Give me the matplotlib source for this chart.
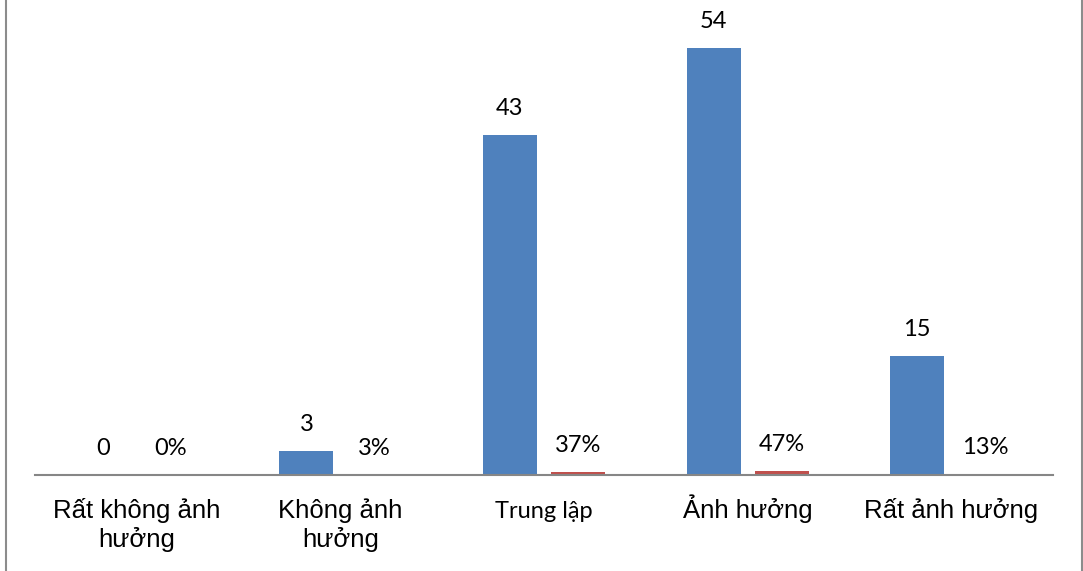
import numpy as np
import matplotlib
matplotlib.use('Agg')
import matplotlib.pyplot as plt

# Số liệu khảo sát: số người và tỷ lệ theo mức độ ảnh hưởng
categories = ['Rất không ảnh\nhưởng', 'Không ảnh\nhưởng', 'Trung lập',
              'Ảnh hưởng', 'Rất ảnh hưởng']
counts = [0, 3, 43, 54, 15]
ratios = [0.00, 0.03, 0.37, 0.47, 0.13]

blue = '#4F81BD'
red = '#C0504D'

fig = plt.figure(figsize=(10.83, 5.71), dpi=100)
ax = fig.add_axes([35 / 1083, 96 / 571, 1018 / 1083, 475 / 571])

x = np.arange(len(categories))
w = 0.265
off = 0.167

ax.bar(x - off, counts, w, color=blue)
ax.bar(x + off, ratios, w, color=red)

# Nhãn giá trị trên cột
for xi, v in zip(x, counts):
    ax.annotate(str(v), (xi - off, v), xytext=(0, 19), textcoords='offset points',
                ha='center', va='center', fontsize=17, family='Lato')
for xi, v in zip(x, ratios):
    ax.annotate(f'{v:.0%}', (xi + off, v), xytext=(0, 19), textcoords='offset points',
                ha='center', va='center', fontsize=17, family='Lato')

ax.set_xlim(-0.5, len(categories) - 0.5)
ax.set_ylim(0, 60)
ax.set_xticks([])
ax.set_yticks([])

# Tên nhóm dưới trục, từng dòng canh theo đường chân chữ
for i, (xi, lab) in enumerate(zip(x, categories)):
    fam, size = ('Lato', 17) if i == 2 else ('Liberation Sans', 18.5)
    for j, line in enumerate(lab.split('\n')):
        ax.annotate(line, (xi, 0), xycoords=('data', 'axes fraction'),
                    xytext=(0, -31 - 21 * j), textcoords='offset points',
                    ha='center', va='baseline', fontsize=size, family=fam)

for s in ['top', 'left', 'right']:
    ax.spines[s].set_visible(False)
ax.spines['bottom'].set_color('#868686')
ax.spines['bottom'].set_linewidth(1.5)

# Khung xám hai bên
fig.add_artist(plt.Line2D([5.5 / 1083] * 2, [0, 1], color='#8c8c8c', lw=1.5))
fig.add_artist(plt.Line2D([1081.5 / 1083] * 2, [0, 1], color='#8c8c8c', lw=1.5))

fig.savefig('out.png', dpi=100)
